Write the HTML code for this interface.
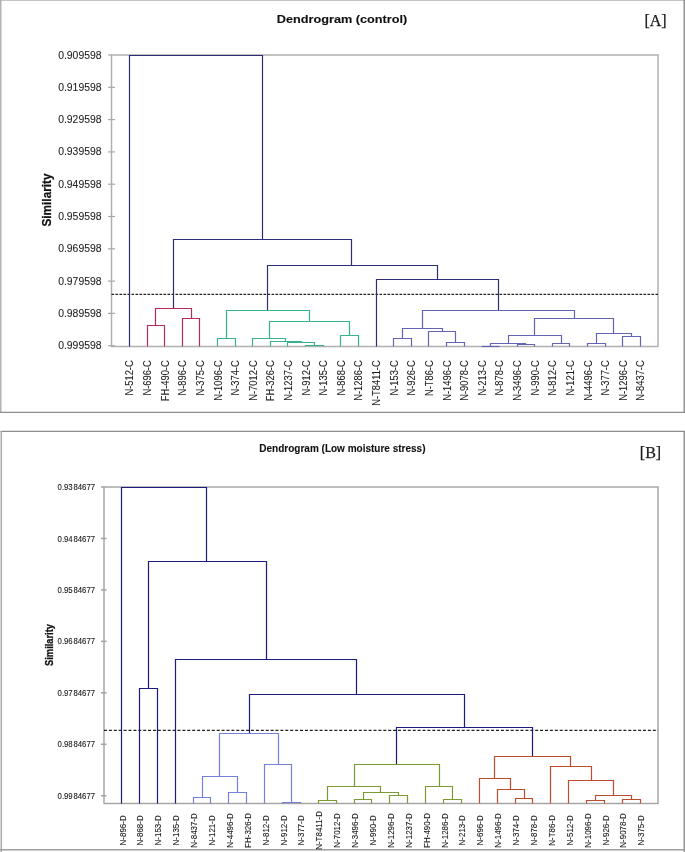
<!DOCTYPE html>
<html><head><meta charset="utf-8"><title>Dendrograms</title>
<style>
html,body{margin:0;padding:0;background:#fff;}
body{width:685px;height:852px;overflow:hidden;font-family:"Liberation Sans", sans-serif;}
svg{display:block;will-change:transform;}
</style></head>
<body>
<svg width="685" height="852" viewBox="0 0 685 852">
<rect x="0" y="0" width="685" height="852" fill="#fff"/>
<line x1="0.00" y1="0.50" x2="685.00" y2="0.50" stroke="#c4c4c4" stroke-width="1.0" />
<line x1="0.75" y1="0.00" x2="0.75" y2="413.00" stroke="#b2b2b2" stroke-width="1.5" />
<line x1="684.20" y1="0.00" x2="684.20" y2="413.00" stroke="#8c8c8c" stroke-width="1.4" />
<line x1="0.00" y1="412.40" x2="685.00" y2="412.40" stroke="#8e8e8e" stroke-width="1.2" />
<line x1="0.50" y1="431.40" x2="685.00" y2="431.40" stroke="#8e8e8e" stroke-width="1.2" />
<line x1="1.30" y1="431.00" x2="1.30" y2="852.00" stroke="#a8a8a8" stroke-width="1.5" />
<line x1="684.20" y1="431.00" x2="684.20" y2="852.00" stroke="#8c8c8c" stroke-width="1.4" />
<line x1="0.00" y1="849.80" x2="685.00" y2="849.80" stroke="#a0a0a0" stroke-width="1.4" />
<rect x="111.5" y="55.0" width="546.5" height="291.5" fill="none" stroke="#b0b0b0" stroke-width="1.5"/>
<line x1="108.00" y1="55.00" x2="111.50" y2="55.00" stroke="#a8a8a8" stroke-width="1.2" />
<text transform="translate(101.50 58.50)" font-family='"Liberation Sans", sans-serif' font-size="10.4" fill="#222" text-anchor="end" font-weight="normal" stroke="#222" stroke-width="0.08">0.909598</text>
<line x1="108.00" y1="87.30" x2="115.00" y2="87.30" stroke="#a8a8a8" stroke-width="1.2" />
<text transform="translate(101.50 90.80)" font-family='"Liberation Sans", sans-serif' font-size="10.4" fill="#222" text-anchor="end" font-weight="normal" stroke="#222" stroke-width="0.08">0.919598</text>
<line x1="108.00" y1="119.60" x2="115.00" y2="119.60" stroke="#a8a8a8" stroke-width="1.2" />
<text transform="translate(101.50 123.10)" font-family='"Liberation Sans", sans-serif' font-size="10.4" fill="#222" text-anchor="end" font-weight="normal" stroke="#222" stroke-width="0.08">0.929598</text>
<line x1="108.00" y1="151.90" x2="115.00" y2="151.90" stroke="#a8a8a8" stroke-width="1.2" />
<text transform="translate(101.50 155.40)" font-family='"Liberation Sans", sans-serif' font-size="10.4" fill="#222" text-anchor="end" font-weight="normal" stroke="#222" stroke-width="0.08">0.939598</text>
<line x1="108.00" y1="184.20" x2="115.00" y2="184.20" stroke="#a8a8a8" stroke-width="1.2" />
<text transform="translate(101.50 187.70)" font-family='"Liberation Sans", sans-serif' font-size="10.4" fill="#222" text-anchor="end" font-weight="normal" stroke="#222" stroke-width="0.08">0.949598</text>
<line x1="108.00" y1="216.50" x2="115.00" y2="216.50" stroke="#a8a8a8" stroke-width="1.2" />
<text transform="translate(101.50 220.00)" font-family='"Liberation Sans", sans-serif' font-size="10.4" fill="#222" text-anchor="end" font-weight="normal" stroke="#222" stroke-width="0.08">0.959598</text>
<line x1="108.00" y1="248.80" x2="115.00" y2="248.80" stroke="#a8a8a8" stroke-width="1.2" />
<text transform="translate(101.50 252.30)" font-family='"Liberation Sans", sans-serif' font-size="10.4" fill="#222" text-anchor="end" font-weight="normal" stroke="#222" stroke-width="0.08">0.969598</text>
<line x1="108.00" y1="281.10" x2="115.00" y2="281.10" stroke="#a8a8a8" stroke-width="1.2" />
<text transform="translate(101.50 284.60)" font-family='"Liberation Sans", sans-serif' font-size="10.4" fill="#222" text-anchor="end" font-weight="normal" stroke="#222" stroke-width="0.08">0.979598</text>
<line x1="108.00" y1="313.40" x2="115.00" y2="313.40" stroke="#a8a8a8" stroke-width="1.2" />
<text transform="translate(101.50 316.90)" font-family='"Liberation Sans", sans-serif' font-size="10.4" fill="#222" text-anchor="end" font-weight="normal" stroke="#222" stroke-width="0.08">0.989598</text>
<line x1="108.00" y1="345.70" x2="115.00" y2="345.70" stroke="#a8a8a8" stroke-width="1.2" />
<text transform="translate(101.50 349.20)" font-family='"Liberation Sans", sans-serif' font-size="10.4" fill="#222" text-anchor="end" font-weight="normal" stroke="#222" stroke-width="0.08">0.999598</text>
<line x1="111.50" y1="294.40" x2="658.00" y2="294.40" stroke="#222" stroke-width="1.2" stroke-dasharray="2.6 1.4"/>
<text transform="translate(342.00 22.70) scale(1.2 1)" font-family='"Liberation Sans", sans-serif' font-size="10.6" fill="#111" text-anchor="middle" font-weight="bold" stroke="#111" stroke-width="0.1">Dendrogram&#160;(control)</text>
<text transform="translate(655.50 26.00)" font-family='"Liberation Serif", serif' font-size="16" fill="#1a1a1a" text-anchor="middle" font-weight="normal" stroke="#1a1a1a" stroke-width="0.25">[A]</text>
<text transform="translate(51.00 200.00) rotate(-90) scale(0.866 1)" font-family='"Liberation Sans", sans-serif' font-size="13.6" fill="#111" text-anchor="middle" font-weight="bold" stroke="#111" stroke-width="0.25">Similarity</text>
<text transform="translate(133.40 360.30) rotate(-90) scale(0.85 1)" font-family='"Liberation Sans", sans-serif' font-size="11.0" fill="#222" text-anchor="end" font-weight="normal" stroke="#222" stroke-width="0.1">N-512-C</text>
<text transform="translate(151.02 360.30) rotate(-90) scale(0.85 1)" font-family='"Liberation Sans", sans-serif' font-size="11.0" fill="#222" text-anchor="end" font-weight="normal" stroke="#222" stroke-width="0.1">N-696-C</text>
<text transform="translate(168.64 360.30) rotate(-90) scale(0.85 1)" font-family='"Liberation Sans", sans-serif' font-size="11.0" fill="#222" text-anchor="end" font-weight="normal" stroke="#222" stroke-width="0.1">FH-490-C</text>
<text transform="translate(186.26 360.30) rotate(-90) scale(0.85 1)" font-family='"Liberation Sans", sans-serif' font-size="11.0" fill="#222" text-anchor="end" font-weight="normal" stroke="#222" stroke-width="0.1">N-896-C</text>
<text transform="translate(203.88 360.30) rotate(-90) scale(0.85 1)" font-family='"Liberation Sans", sans-serif' font-size="11.0" fill="#222" text-anchor="end" font-weight="normal" stroke="#222" stroke-width="0.1">N-375-C</text>
<text transform="translate(221.50 360.30) rotate(-90) scale(0.85 1)" font-family='"Liberation Sans", sans-serif' font-size="11.0" fill="#222" text-anchor="end" font-weight="normal" stroke="#222" stroke-width="0.1">N-1096-C</text>
<text transform="translate(239.12 360.30) rotate(-90) scale(0.85 1)" font-family='"Liberation Sans", sans-serif' font-size="11.0" fill="#222" text-anchor="end" font-weight="normal" stroke="#222" stroke-width="0.1">N-374-C</text>
<text transform="translate(256.74 360.30) rotate(-90) scale(0.85 1)" font-family='"Liberation Sans", sans-serif' font-size="11.0" fill="#222" text-anchor="end" font-weight="normal" stroke="#222" stroke-width="0.1">N-7012-C</text>
<text transform="translate(274.36 360.30) rotate(-90) scale(0.85 1)" font-family='"Liberation Sans", sans-serif' font-size="11.0" fill="#222" text-anchor="end" font-weight="normal" stroke="#222" stroke-width="0.1">FH-326-C</text>
<text transform="translate(291.98 360.30) rotate(-90) scale(0.85 1)" font-family='"Liberation Sans", sans-serif' font-size="11.0" fill="#222" text-anchor="end" font-weight="normal" stroke="#222" stroke-width="0.1">N-1237-C</text>
<text transform="translate(309.60 360.30) rotate(-90) scale(0.85 1)" font-family='"Liberation Sans", sans-serif' font-size="11.0" fill="#222" text-anchor="end" font-weight="normal" stroke="#222" stroke-width="0.1">N-912-C</text>
<text transform="translate(327.22 360.30) rotate(-90) scale(0.85 1)" font-family='"Liberation Sans", sans-serif' font-size="11.0" fill="#222" text-anchor="end" font-weight="normal" stroke="#222" stroke-width="0.1">N-135-C</text>
<text transform="translate(344.84 360.30) rotate(-90) scale(0.85 1)" font-family='"Liberation Sans", sans-serif' font-size="11.0" fill="#222" text-anchor="end" font-weight="normal" stroke="#222" stroke-width="0.1">N-868-C</text>
<text transform="translate(362.46 360.30) rotate(-90) scale(0.85 1)" font-family='"Liberation Sans", sans-serif' font-size="11.0" fill="#222" text-anchor="end" font-weight="normal" stroke="#222" stroke-width="0.1">N-1286-C</text>
<text transform="translate(380.08 360.30) rotate(-90) scale(0.85 1)" font-family='"Liberation Sans", sans-serif' font-size="11.0" fill="#222" text-anchor="end" font-weight="normal" stroke="#222" stroke-width="0.1">N-T8411-C</text>
<text transform="translate(397.70 360.30) rotate(-90) scale(0.85 1)" font-family='"Liberation Sans", sans-serif' font-size="11.0" fill="#222" text-anchor="end" font-weight="normal" stroke="#222" stroke-width="0.1">N-153-C</text>
<text transform="translate(415.32 360.30) rotate(-90) scale(0.85 1)" font-family='"Liberation Sans", sans-serif' font-size="11.0" fill="#222" text-anchor="end" font-weight="normal" stroke="#222" stroke-width="0.1">N-926-C</text>
<text transform="translate(432.94 360.30) rotate(-90) scale(0.85 1)" font-family='"Liberation Sans", sans-serif' font-size="11.0" fill="#222" text-anchor="end" font-weight="normal" stroke="#222" stroke-width="0.1">N-T86-C</text>
<text transform="translate(450.56 360.30) rotate(-90) scale(0.85 1)" font-family='"Liberation Sans", sans-serif' font-size="11.0" fill="#222" text-anchor="end" font-weight="normal" stroke="#222" stroke-width="0.1">N-1496-C</text>
<text transform="translate(468.18 360.30) rotate(-90) scale(0.85 1)" font-family='"Liberation Sans", sans-serif' font-size="11.0" fill="#222" text-anchor="end" font-weight="normal" stroke="#222" stroke-width="0.1">N-9078-C</text>
<text transform="translate(485.80 360.30) rotate(-90) scale(0.85 1)" font-family='"Liberation Sans", sans-serif' font-size="11.0" fill="#222" text-anchor="end" font-weight="normal" stroke="#222" stroke-width="0.1">N-213-C</text>
<text transform="translate(503.42 360.30) rotate(-90) scale(0.85 1)" font-family='"Liberation Sans", sans-serif' font-size="11.0" fill="#222" text-anchor="end" font-weight="normal" stroke="#222" stroke-width="0.1">N-878-C</text>
<text transform="translate(521.04 360.30) rotate(-90) scale(0.85 1)" font-family='"Liberation Sans", sans-serif' font-size="11.0" fill="#222" text-anchor="end" font-weight="normal" stroke="#222" stroke-width="0.1">N-3496-C</text>
<text transform="translate(538.66 360.30) rotate(-90) scale(0.85 1)" font-family='"Liberation Sans", sans-serif' font-size="11.0" fill="#222" text-anchor="end" font-weight="normal" stroke="#222" stroke-width="0.1">N-990-C</text>
<text transform="translate(556.28 360.30) rotate(-90) scale(0.85 1)" font-family='"Liberation Sans", sans-serif' font-size="11.0" fill="#222" text-anchor="end" font-weight="normal" stroke="#222" stroke-width="0.1">N-812-C</text>
<text transform="translate(573.90 360.30) rotate(-90) scale(0.85 1)" font-family='"Liberation Sans", sans-serif' font-size="11.0" fill="#222" text-anchor="end" font-weight="normal" stroke="#222" stroke-width="0.1">N-121-C</text>
<text transform="translate(591.52 360.30) rotate(-90) scale(0.85 1)" font-family='"Liberation Sans", sans-serif' font-size="11.0" fill="#222" text-anchor="end" font-weight="normal" stroke="#222" stroke-width="0.1">N-4496-C</text>
<text transform="translate(609.14 360.30) rotate(-90) scale(0.85 1)" font-family='"Liberation Sans", sans-serif' font-size="11.0" fill="#222" text-anchor="end" font-weight="normal" stroke="#222" stroke-width="0.1">N-377-C</text>
<text transform="translate(626.76 360.30) rotate(-90) scale(0.85 1)" font-family='"Liberation Sans", sans-serif' font-size="11.0" fill="#222" text-anchor="end" font-weight="normal" stroke="#222" stroke-width="0.1">N-1296-C</text>
<text transform="translate(644.38 360.30) rotate(-90) scale(0.85 1)" font-family='"Liberation Sans", sans-serif' font-size="11.0" fill="#222" text-anchor="end" font-weight="normal" stroke="#222" stroke-width="0.1">N-8437-C</text>
<line x1="129.50" y1="55.00" x2="129.50" y2="346.50" stroke="#2e2e74" stroke-width="1.2" />
<path d="M129.50 55.50V55.50H262.50V239.50" fill="none" stroke="#2e2e74" stroke-width="1.2" stroke-linejoin="miter"/>
<path d="M173.50 308.50V239.50H351.50V265.50" fill="none" stroke="#2e2e74" stroke-width="1.2" stroke-linejoin="miter"/>
<path d="M267.50 310.50V265.50H437.50V279.50" fill="none" stroke="#2e2e74" stroke-width="1.2" stroke-linejoin="miter"/>
<path d="M376.50 346.50V279.50H498.50V310.50" fill="none" stroke="#2e2e74" stroke-width="1.2" stroke-linejoin="miter"/>
<path d="M155.50 325.50V308.50H191.50V318.50" fill="none" stroke="#b42c5c" stroke-width="1.2" stroke-linejoin="miter"/>
<path d="M147.50 346.50V325.50H164.50V346.50" fill="none" stroke="#b42c5c" stroke-width="1.2" stroke-linejoin="miter"/>
<path d="M182.50 346.50V318.50H199.50V346.50" fill="none" stroke="#b42c5c" stroke-width="1.2" stroke-linejoin="miter"/>
<path d="M217.50 346.50V338.50H235.50V346.50" fill="none" stroke="#36b28e" stroke-width="1.2" stroke-linejoin="miter"/>
<path d="M305.50 346.50V345.50H323.50V346.50" fill="none" stroke="#36b28e" stroke-width="1.2" stroke-linejoin="miter"/>
<path d="M287.50 346.50V342.50H314.50V345.50" fill="none" stroke="#36b28e" stroke-width="1.2" stroke-linejoin="miter"/>
<path d="M270.50 346.50V341.50H301.50V342.50" fill="none" stroke="#36b28e" stroke-width="1.2" stroke-linejoin="miter"/>
<path d="M252.50 346.50V338.50H285.50V341.50" fill="none" stroke="#36b28e" stroke-width="1.2" stroke-linejoin="miter"/>
<path d="M340.50 346.50V335.50H358.50V346.50" fill="none" stroke="#36b28e" stroke-width="1.2" stroke-linejoin="miter"/>
<path d="M269.50 338.50V321.50H349.50V335.50" fill="none" stroke="#36b28e" stroke-width="1.2" stroke-linejoin="miter"/>
<path d="M226.50 338.50V310.50H309.50V321.50" fill="none" stroke="#36b28e" stroke-width="1.2" stroke-linejoin="miter"/>
<path d="M393.50 346.50V338.50H411.50V346.50" fill="none" stroke="#6464b4" stroke-width="1.2" stroke-linejoin="miter"/>
<path d="M446.50 346.50V342.50H464.50V346.50" fill="none" stroke="#6464b4" stroke-width="1.2" stroke-linejoin="miter"/>
<path d="M428.50 346.50V331.50H455.50V342.50" fill="none" stroke="#6464b4" stroke-width="1.2" stroke-linejoin="miter"/>
<path d="M402.50 338.50V328.50H442.50V331.50" fill="none" stroke="#6464b4" stroke-width="1.2" stroke-linejoin="miter"/>
<path d="M481.50 346.50V346.50H499.50V346.50" fill="none" stroke="#6464b4" stroke-width="1.2" stroke-linejoin="miter"/>
<path d="M517.50 346.50V344.50H534.50V346.50" fill="none" stroke="#6464b4" stroke-width="1.2" stroke-linejoin="miter"/>
<path d="M490.50 346.50V343.50H525.50V344.50" fill="none" stroke="#6464b4" stroke-width="1.2" stroke-linejoin="miter"/>
<path d="M552.50 346.50V343.50H569.50V346.50" fill="none" stroke="#6464b4" stroke-width="1.2" stroke-linejoin="miter"/>
<path d="M508.50 343.50V335.50H561.50V343.50" fill="none" stroke="#6464b4" stroke-width="1.2" stroke-linejoin="miter"/>
<path d="M587.50 346.50V343.50H605.50V346.50" fill="none" stroke="#6464b4" stroke-width="1.2" stroke-linejoin="miter"/>
<path d="M622.50 346.50V336.50H640.50V346.50" fill="none" stroke="#6464b4" stroke-width="1.2" stroke-linejoin="miter"/>
<path d="M596.50 343.50V333.50H631.50V336.50" fill="none" stroke="#6464b4" stroke-width="1.2" stroke-linejoin="miter"/>
<path d="M534.50 335.50V318.50H613.50V333.50" fill="none" stroke="#6464b4" stroke-width="1.2" stroke-linejoin="miter"/>
<path d="M422.50 328.50V310.50H574.50V318.50" fill="none" stroke="#6464b4" stroke-width="1.2" stroke-linejoin="miter"/>
<rect x="104.0" y="487.0" width="554.0" height="316.5" fill="none" stroke="#a2a2a2" stroke-width="1.4"/>
<line x1="101.00" y1="487.00" x2="104.00" y2="487.00" stroke="#a2a2a2" stroke-width="1.5" />
<text transform="translate(95.00 490.10) scale(0.88 1)" font-family='"Liberation Sans", sans-serif' font-size="8.8" fill="#1a1a1a" text-anchor="end" font-weight="normal" stroke="#1a1a1a" stroke-width="0.12">0.93<tspan dx="1">84677</tspan></text>
<line x1="101.00" y1="538.45" x2="106.50" y2="538.45" stroke="#a2a2a2" stroke-width="1.5" />
<text transform="translate(95.00 541.55) scale(0.88 1)" font-family='"Liberation Sans", sans-serif' font-size="8.8" fill="#1a1a1a" text-anchor="end" font-weight="normal" stroke="#1a1a1a" stroke-width="0.12">0.94<tspan dx="1">84677</tspan></text>
<line x1="101.00" y1="589.90" x2="106.50" y2="589.90" stroke="#a2a2a2" stroke-width="1.5" />
<text transform="translate(95.00 593.00) scale(0.88 1)" font-family='"Liberation Sans", sans-serif' font-size="8.8" fill="#1a1a1a" text-anchor="end" font-weight="normal" stroke="#1a1a1a" stroke-width="0.12">0.95<tspan dx="1">84677</tspan></text>
<line x1="101.00" y1="641.35" x2="106.50" y2="641.35" stroke="#a2a2a2" stroke-width="1.5" />
<text transform="translate(95.00 644.45) scale(0.88 1)" font-family='"Liberation Sans", sans-serif' font-size="8.8" fill="#1a1a1a" text-anchor="end" font-weight="normal" stroke="#1a1a1a" stroke-width="0.12">0.96<tspan dx="1">84677</tspan></text>
<line x1="101.00" y1="692.80" x2="106.50" y2="692.80" stroke="#a2a2a2" stroke-width="1.5" />
<text transform="translate(95.00 695.90) scale(0.88 1)" font-family='"Liberation Sans", sans-serif' font-size="8.8" fill="#1a1a1a" text-anchor="end" font-weight="normal" stroke="#1a1a1a" stroke-width="0.12">0.97<tspan dx="1">84677</tspan></text>
<line x1="101.00" y1="744.25" x2="106.50" y2="744.25" stroke="#a2a2a2" stroke-width="1.5" />
<text transform="translate(95.00 747.35) scale(0.88 1)" font-family='"Liberation Sans", sans-serif' font-size="8.8" fill="#1a1a1a" text-anchor="end" font-weight="normal" stroke="#1a1a1a" stroke-width="0.12">0.98<tspan dx="1">84677</tspan></text>
<line x1="101.00" y1="795.70" x2="106.50" y2="795.70" stroke="#a2a2a2" stroke-width="1.5" />
<text transform="translate(95.00 798.80) scale(0.88 1)" font-family='"Liberation Sans", sans-serif' font-size="8.8" fill="#1a1a1a" text-anchor="end" font-weight="normal" stroke="#1a1a1a" stroke-width="0.12">0.99<tspan dx="1">84677</tspan></text>
<line x1="104.00" y1="730.30" x2="658.00" y2="730.30" stroke="#222" stroke-width="1.2" stroke-dasharray="3 1.9"/>
<text transform="translate(342.40 451.60)" font-family='"Liberation Sans", sans-serif' font-size="10" fill="#111" text-anchor="middle" font-weight="bold" stroke="#111" stroke-width="0.1">Dendrogram (Low moisture stress)</text>
<text transform="translate(650.50 458.00)" font-family='"Liberation Serif", serif' font-size="16" fill="#1a1a1a" text-anchor="middle" font-weight="normal" stroke="#1a1a1a" stroke-width="0.25">[B]</text>
<text transform="translate(52.60 645.00) rotate(-90) scale(0.83 1)" font-family='"Liberation Sans", sans-serif' font-size="11.2" fill="#111" text-anchor="middle" font-weight="bold" stroke="#111" stroke-width="0.3">Similarity</text>
<text transform="translate(125.50 830.40) rotate(-90) scale(0.84 1)" font-family='"Liberation Sans", sans-serif' font-size="9.5" fill="#1a1a1a" text-anchor="middle" font-weight="normal" stroke="#1a1a1a" stroke-width="0.1">N-896-D</text>
<text transform="translate(143.39 830.40) rotate(-90) scale(0.84 1)" font-family='"Liberation Sans", sans-serif' font-size="9.5" fill="#1a1a1a" text-anchor="middle" font-weight="normal" stroke="#1a1a1a" stroke-width="0.1">N-868-D</text>
<text transform="translate(161.28 830.40) rotate(-90) scale(0.84 1)" font-family='"Liberation Sans", sans-serif' font-size="9.5" fill="#1a1a1a" text-anchor="middle" font-weight="normal" stroke="#1a1a1a" stroke-width="0.1">N-153-D</text>
<text transform="translate(179.17 830.40) rotate(-90) scale(0.84 1)" font-family='"Liberation Sans", sans-serif' font-size="9.5" fill="#1a1a1a" text-anchor="middle" font-weight="normal" stroke="#1a1a1a" stroke-width="0.1">N-135-D</text>
<text transform="translate(197.06 830.40) rotate(-90) scale(0.84 1)" font-family='"Liberation Sans", sans-serif' font-size="9.5" fill="#1a1a1a" text-anchor="middle" font-weight="normal" stroke="#1a1a1a" stroke-width="0.1">N-8437-D</text>
<text transform="translate(214.95 830.40) rotate(-90) scale(0.84 1)" font-family='"Liberation Sans", sans-serif' font-size="9.5" fill="#1a1a1a" text-anchor="middle" font-weight="normal" stroke="#1a1a1a" stroke-width="0.1">N-121-D</text>
<text transform="translate(232.84 830.40) rotate(-90) scale(0.84 1)" font-family='"Liberation Sans", sans-serif' font-size="9.5" fill="#1a1a1a" text-anchor="middle" font-weight="normal" stroke="#1a1a1a" stroke-width="0.1">N-4496-D</text>
<text transform="translate(250.73 830.40) rotate(-90) scale(0.84 1)" font-family='"Liberation Sans", sans-serif' font-size="9.5" fill="#1a1a1a" text-anchor="middle" font-weight="normal" stroke="#1a1a1a" stroke-width="0.1">FH-326-D</text>
<text transform="translate(268.62 830.40) rotate(-90) scale(0.84 1)" font-family='"Liberation Sans", sans-serif' font-size="9.5" fill="#1a1a1a" text-anchor="middle" font-weight="normal" stroke="#1a1a1a" stroke-width="0.1">N-812-D</text>
<text transform="translate(286.51 830.40) rotate(-90) scale(0.84 1)" font-family='"Liberation Sans", sans-serif' font-size="9.5" fill="#1a1a1a" text-anchor="middle" font-weight="normal" stroke="#1a1a1a" stroke-width="0.1">N-912-D</text>
<text transform="translate(304.40 830.40) rotate(-90) scale(0.84 1)" font-family='"Liberation Sans", sans-serif' font-size="9.5" fill="#1a1a1a" text-anchor="middle" font-weight="normal" stroke="#1a1a1a" stroke-width="0.1">N-377-D</text>
<text transform="translate(322.29 830.40) rotate(-90) scale(0.84 1)" font-family='"Liberation Sans", sans-serif' font-size="9.5" fill="#1a1a1a" text-anchor="middle" font-weight="normal" stroke="#1a1a1a" stroke-width="0.1">N-T8411-D</text>
<text transform="translate(340.18 830.40) rotate(-90) scale(0.84 1)" font-family='"Liberation Sans", sans-serif' font-size="9.5" fill="#1a1a1a" text-anchor="middle" font-weight="normal" stroke="#1a1a1a" stroke-width="0.1">N-7012-D</text>
<text transform="translate(358.07 830.40) rotate(-90) scale(0.84 1)" font-family='"Liberation Sans", sans-serif' font-size="9.5" fill="#1a1a1a" text-anchor="middle" font-weight="normal" stroke="#1a1a1a" stroke-width="0.1">N-3496-D</text>
<text transform="translate(375.96 830.40) rotate(-90) scale(0.84 1)" font-family='"Liberation Sans", sans-serif' font-size="9.5" fill="#1a1a1a" text-anchor="middle" font-weight="normal" stroke="#1a1a1a" stroke-width="0.1">N-990-D</text>
<text transform="translate(393.85 830.40) rotate(-90) scale(0.84 1)" font-family='"Liberation Sans", sans-serif' font-size="9.5" fill="#1a1a1a" text-anchor="middle" font-weight="normal" stroke="#1a1a1a" stroke-width="0.1">N-1296-D</text>
<text transform="translate(411.74 830.40) rotate(-90) scale(0.84 1)" font-family='"Liberation Sans", sans-serif' font-size="9.5" fill="#1a1a1a" text-anchor="middle" font-weight="normal" stroke="#1a1a1a" stroke-width="0.1">N-1237-D</text>
<text transform="translate(429.63 830.40) rotate(-90) scale(0.84 1)" font-family='"Liberation Sans", sans-serif' font-size="9.5" fill="#1a1a1a" text-anchor="middle" font-weight="normal" stroke="#1a1a1a" stroke-width="0.1">FH-490-D</text>
<text transform="translate(447.52 830.40) rotate(-90) scale(0.84 1)" font-family='"Liberation Sans", sans-serif' font-size="9.5" fill="#1a1a1a" text-anchor="middle" font-weight="normal" stroke="#1a1a1a" stroke-width="0.1">N-1286-D</text>
<text transform="translate(465.41 830.40) rotate(-90) scale(0.84 1)" font-family='"Liberation Sans", sans-serif' font-size="9.5" fill="#1a1a1a" text-anchor="middle" font-weight="normal" stroke="#1a1a1a" stroke-width="0.1">N-213-D</text>
<text transform="translate(483.30 830.40) rotate(-90) scale(0.84 1)" font-family='"Liberation Sans", sans-serif' font-size="9.5" fill="#1a1a1a" text-anchor="middle" font-weight="normal" stroke="#1a1a1a" stroke-width="0.1">N-696-D</text>
<text transform="translate(501.19 830.40) rotate(-90) scale(0.84 1)" font-family='"Liberation Sans", sans-serif' font-size="9.5" fill="#1a1a1a" text-anchor="middle" font-weight="normal" stroke="#1a1a1a" stroke-width="0.1">N-1496-D</text>
<text transform="translate(519.08 830.40) rotate(-90) scale(0.84 1)" font-family='"Liberation Sans", sans-serif' font-size="9.5" fill="#1a1a1a" text-anchor="middle" font-weight="normal" stroke="#1a1a1a" stroke-width="0.1">N-374-D</text>
<text transform="translate(536.97 830.40) rotate(-90) scale(0.84 1)" font-family='"Liberation Sans", sans-serif' font-size="9.5" fill="#1a1a1a" text-anchor="middle" font-weight="normal" stroke="#1a1a1a" stroke-width="0.1">N-878-D</text>
<text transform="translate(554.86 830.40) rotate(-90) scale(0.84 1)" font-family='"Liberation Sans", sans-serif' font-size="9.5" fill="#1a1a1a" text-anchor="middle" font-weight="normal" stroke="#1a1a1a" stroke-width="0.1">N-T86-D</text>
<text transform="translate(572.75 830.40) rotate(-90) scale(0.84 1)" font-family='"Liberation Sans", sans-serif' font-size="9.5" fill="#1a1a1a" text-anchor="middle" font-weight="normal" stroke="#1a1a1a" stroke-width="0.1">N-512-D</text>
<text transform="translate(590.64 830.40) rotate(-90) scale(0.84 1)" font-family='"Liberation Sans", sans-serif' font-size="9.5" fill="#1a1a1a" text-anchor="middle" font-weight="normal" stroke="#1a1a1a" stroke-width="0.1">N-1096-D</text>
<text transform="translate(608.53 830.40) rotate(-90) scale(0.84 1)" font-family='"Liberation Sans", sans-serif' font-size="9.5" fill="#1a1a1a" text-anchor="middle" font-weight="normal" stroke="#1a1a1a" stroke-width="0.1">N-926-D</text>
<text transform="translate(626.42 830.40) rotate(-90) scale(0.84 1)" font-family='"Liberation Sans", sans-serif' font-size="9.5" fill="#1a1a1a" text-anchor="middle" font-weight="normal" stroke="#1a1a1a" stroke-width="0.1">N-9078-D</text>
<text transform="translate(644.31 830.40) rotate(-90) scale(0.84 1)" font-family='"Liberation Sans", sans-serif' font-size="9.5" fill="#1a1a1a" text-anchor="middle" font-weight="normal" stroke="#1a1a1a" stroke-width="0.1">N-375-D</text>
<line x1="121.50" y1="487.00" x2="121.50" y2="803.50" stroke="#1c1c80" stroke-width="1.2" />
<path d="M139.50 803.50V688.50H157.50V803.50" fill="none" stroke="#1c1c80" stroke-width="1.2" stroke-linejoin="miter"/>
<path d="M121.50 487.50V487.50H206.50V561.50" fill="none" stroke="#1c1c80" stroke-width="1.2" stroke-linejoin="miter"/>
<path d="M148.50 688.50V561.50H266.50V659.50" fill="none" stroke="#1c1c80" stroke-width="1.2" stroke-linejoin="miter"/>
<path d="M175.50 803.50V659.50H356.50V694.50" fill="none" stroke="#1c1c80" stroke-width="1.2" stroke-linejoin="miter"/>
<path d="M249.50 733.50V694.50H464.50V727.50" fill="none" stroke="#1c1c80" stroke-width="1.2" stroke-linejoin="miter"/>
<path d="M396.50 764.50V727.50H532.50V756.50" fill="none" stroke="#1c1c80" stroke-width="1.2" stroke-linejoin="miter"/>
<path d="M193.50 803.50V797.50H210.50V803.50" fill="none" stroke="#7480da" stroke-width="1.2" stroke-linejoin="miter"/>
<path d="M228.50 803.50V792.50H246.50V803.50" fill="none" stroke="#7480da" stroke-width="1.2" stroke-linejoin="miter"/>
<path d="M202.50 797.50V776.50H237.50V792.50" fill="none" stroke="#7480da" stroke-width="1.2" stroke-linejoin="miter"/>
<path d="M282.50 803.50V802.50H300.50V803.50" fill="none" stroke="#7480da" stroke-width="1.2" stroke-linejoin="miter"/>
<path d="M264.50 803.50V764.50H291.50V802.50" fill="none" stroke="#7480da" stroke-width="1.2" stroke-linejoin="miter"/>
<path d="M219.50 776.50V733.50H278.50V764.50" fill="none" stroke="#7480da" stroke-width="1.2" stroke-linejoin="miter"/>
<path d="M318.50 803.50V800.50H336.50V803.50" fill="none" stroke="#7c9a32" stroke-width="1.2" stroke-linejoin="miter"/>
<path d="M354.50 803.50V799.50H371.50V803.50" fill="none" stroke="#7c9a32" stroke-width="1.2" stroke-linejoin="miter"/>
<path d="M389.50 803.50V795.50H407.50V803.50" fill="none" stroke="#7c9a32" stroke-width="1.2" stroke-linejoin="miter"/>
<path d="M363.50 799.50V792.50H398.50V795.50" fill="none" stroke="#7c9a32" stroke-width="1.2" stroke-linejoin="miter"/>
<path d="M327.50 800.50V786.50H380.50V792.50" fill="none" stroke="#7c9a32" stroke-width="1.2" stroke-linejoin="miter"/>
<path d="M443.50 803.50V799.50H461.50V803.50" fill="none" stroke="#7c9a32" stroke-width="1.2" stroke-linejoin="miter"/>
<path d="M425.50 803.50V786.50H452.50V799.50" fill="none" stroke="#7c9a32" stroke-width="1.2" stroke-linejoin="miter"/>
<path d="M354.50 786.50V764.50H439.50V786.50" fill="none" stroke="#7c9a32" stroke-width="1.2" stroke-linejoin="miter"/>
<path d="M515.50 803.50V798.50H532.50V803.50" fill="none" stroke="#bc4c2a" stroke-width="1.2" stroke-linejoin="miter"/>
<path d="M497.50 803.50V789.50H524.50V798.50" fill="none" stroke="#bc4c2a" stroke-width="1.2" stroke-linejoin="miter"/>
<path d="M479.50 803.50V778.50H510.50V789.50" fill="none" stroke="#bc4c2a" stroke-width="1.2" stroke-linejoin="miter"/>
<path d="M586.50 803.50V800.50H604.50V803.50" fill="none" stroke="#bc4c2a" stroke-width="1.2" stroke-linejoin="miter"/>
<path d="M622.50 803.50V799.50H640.50V803.50" fill="none" stroke="#bc4c2a" stroke-width="1.2" stroke-linejoin="miter"/>
<path d="M595.50 800.50V795.50H631.50V799.50" fill="none" stroke="#bc4c2a" stroke-width="1.2" stroke-linejoin="miter"/>
<path d="M568.50 803.50V780.50H613.50V795.50" fill="none" stroke="#bc4c2a" stroke-width="1.2" stroke-linejoin="miter"/>
<path d="M550.50 803.50V766.50H591.50V780.50" fill="none" stroke="#bc4c2a" stroke-width="1.2" stroke-linejoin="miter"/>
<path d="M494.50 778.50V756.50H570.50V766.50" fill="none" stroke="#bc4c2a" stroke-width="1.2" stroke-linejoin="miter"/>
</svg>
</body></html>
